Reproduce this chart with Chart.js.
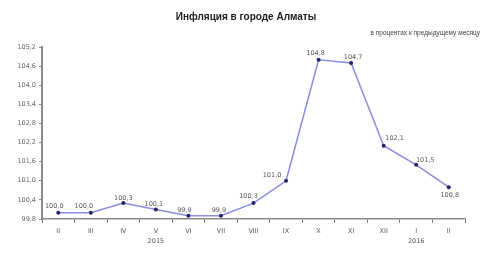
<!DOCTYPE html>
<html>
<head>
<meta charset="utf-8">
<script src="https://cdn.jsdelivr.net/npm/chart.js@4"></script>
<style>
  html, body { margin: 0; padding: 0; background: #fff; }
  #wrap { width: 500px; height: 266px; position: relative; }
</style>
</head>
<body>
<div id="wrap"><canvas id="c" width="500" height="266"></canvas></div>
<script>
// Monthly inflation, Almaty (previous month = 100)
const months = ['II', 'III', 'IV', 'V', 'VI', 'VII', 'VIII', 'IX', 'X', 'XI', 'XII', 'I', 'II'];
const inflation = [100.0, 100.0, 100.3, 100.1, 99.9, 99.9, 100.3, 101.0, 104.8, 104.7, 102.1, 101.5, 100.8];
const yTicks = [99.8, 100.4, 101.0, 101.6, 102.2, 102.8, 103.4, 104.0, 104.6, 105.2];
const years = [{ label: '2015', at: 3 }, { label: '2016', at: 11 }];
const titleText = 'Инфляция в городе Алматы';
const subtitleText = 'в процентах к предыдущему месяцу';

// label placement relative to each point: [dx, dy]
const labelOffsets = [[-4, -6], [-7, -6], [0, -5], [-2, -5], [-4, -6], [-2, -6], [-5, -7], [-14, -5],
                      [-3, -6], [2, -6], [11, -7], [9, -5], [1, 8]];

const fmt = v => v.toFixed(1).replace('.', ',');

const decorations = {
  id: 'decorations',
  afterDraw(chart) {
    const ctx = chart.ctx;
    const x = chart.scales.x;
    ctx.save();
    // heading
    ctx.fillStyle = '#222';
    ctx.font = 'bold 10px "Liberation Sans", Arial, sans-serif';
    ctx.textAlign = 'center';
    ctx.textBaseline = 'middle';
    ctx.fillText(titleText, 246, 17);
    ctx.font = '6.5px "Liberation Sans", Arial, sans-serif';
    ctx.fillStyle = '#444';
    ctx.textAlign = 'right';
    ctx.fillText(subtitleText, 480, 33);
    // point values
    const meta = chart.getDatasetMeta(0);
    ctx.font = '6.5px "DejaVu Sans", sans-serif';
    ctx.fillStyle = '#555';
    ctx.textAlign = 'center';
    meta.data.forEach((pt, i) => {
      const [dx, dy] = labelOffsets[i];
      ctx.fillText(fmt(inflation[i]), pt.x + dx, pt.y + dy);
    });
    // year captions
    years.forEach(y => {
      ctx.fillText(y.label, x.getPixelForValue(y.at), 241);
    });
    ctx.restore();
  }
};

new Chart(document.getElementById('c'), {
  type: 'line',
  data: {
    labels: months,
    datasets: [{
      data: inflation,
      borderColor: '#8c8ce0',
      borderWidth: 1.5,
      pointRadius: 2,
      pointBackgroundColor: '#24246a',
      pointBorderColor: '#24246a',
      pointBorderWidth: 0,
      tension: 0,
      fill: false
    }]
  },
  options: {
    responsive: false,
    animation: false,
    layout: { padding: { top: 47, right: 35, left: 4, bottom: 0 } },
    plugins: {
      legend: { display: false },
      tooltip: { enabled: false }
    },
    scales: {
      x: {
        offset: true,
        grid: { display: true, drawOnChartArea: false, drawTicks: true, tickLength: 4, color: '#777', offset: true },
        border: { display: true, color: '#888', width: 1.5 },
        ticks: { color: '#555', font: { size: 6.5, family: '"DejaVu Sans", sans-serif' }, padding: 4, maxRotation: 0, autoSkip: false },
        afterFit(s) { s.height = 47; }
      },
      y: {
        min: 99.8,
        max: 105.2,
        afterBuildTicks(s) { s.ticks = yTicks.map(v => ({ value: v })); },
        grid: { display: true, drawOnChartArea: false, drawTicks: true, tickLength: 3, color: '#888' },
        border: { display: true, color: '#888', width: 2 },
        ticks: { color: '#666', font: { size: 6.5, family: '"DejaVu Sans", sans-serif' }, padding: 3, callback: v => fmt(v) },
        afterFit(s) { s.width = 38; }
      }
    }
  },
  plugins: [decorations]
});
</script>
</body>
</html>
